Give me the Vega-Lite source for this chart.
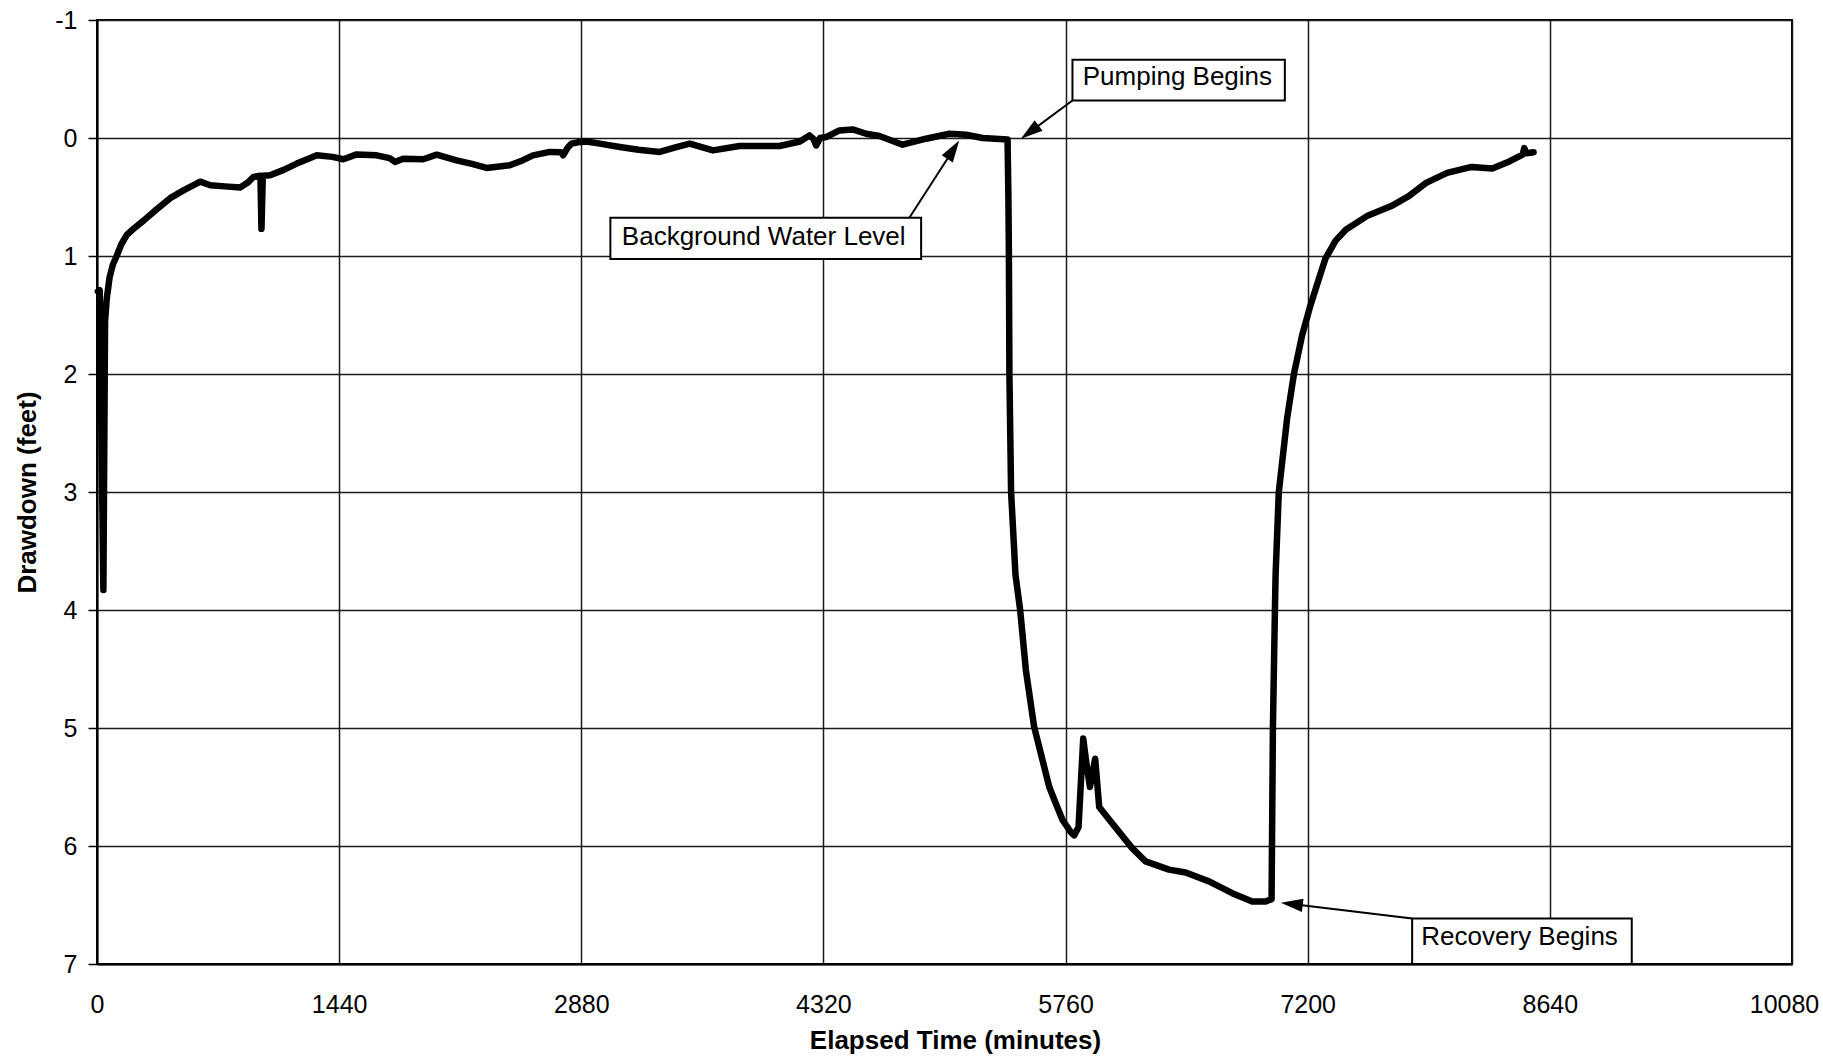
{
  "$schema": "https://vega.github.io/schema/vega-lite/v6.json",
  "width": 1695,
  "height": 944,
  "autosize": {"type": "none"},
  "padding": {"left": 97, "top": 20, "right": 31, "bottom": 97},
  "background": "white",
  "config": {
    "view": {"stroke": "#000", "strokeWidth": 2},
    "font": "Liberation Sans",
    "axisX": {
      "grid": true, "gridColor": "#1a1a1a", "gridWidth": 1.5,
      "ticks": false, "tickSize": 0,
      "labelPadding": 48, "labelBaseline": "alphabetic",
      "labelFontSize": 25, "labelColor": "#000", "labelFont": "Liberation Sans",
      "labelFlush": false, "labelOverlap": false,
      "domainColor": "#000", "domainWidth": 2,
      "titleFontSize": 26, "titleFontWeight": "bold", "titleColor": "#000", "titleFont": "Liberation Sans",
      "titleX": 858, "titleY": 84, "titleBaseline": "alphabetic", "titleAlign": "center"
    },
    "axisY": {
      "grid": true, "gridColor": "#1a1a1a", "gridWidth": 1.5,
      "ticks": true, "tickSize": 9, "tickColor": "#000", "tickWidth": 1.5,
      "labelPadding": 11,
      "labelFontSize": 25, "labelColor": "#000", "labelFont": "Liberation Sans",
      "labelFlush": false, "labelOverlap": false,
      "domainColor": "#000", "domainWidth": 2,
      "titleFontSize": 26, "titleFontWeight": "bold", "titleColor": "#000", "titleFont": "Liberation Sans",
      "titleAngle": -90, "titleX": -62, "titleY": 472, "titleBaseline": "alphabetic", "titleAlign": "center"
    }
  },
  "datasets": {
    "drawdown": [
      {"t": 5, "d": 1.30}, {"t": 16, "d": 1.29}, {"t": 38, "d": 3.83}, {"t": 48, "d": 1.55}, {"t": 58, "d": 1.36},
      {"t": 75, "d": 1.18}, {"t": 95, "d": 1.07}, {"t": 117, "d": 1.00}, {"t": 145, "d": 0.90}, {"t": 178, "d": 0.82},
      {"t": 225, "d": 0.76}, {"t": 277, "d": 0.70}, {"t": 350, "d": 0.61}, {"t": 435, "d": 0.51}, {"t": 520, "d": 0.44},
      {"t": 614, "d": 0.37}, {"t": 673, "d": 0.40}, {"t": 760, "d": 0.41}, {"t": 851, "d": 0.42}, {"t": 895, "d": 0.38},
      {"t": 930, "d": 0.33}, {"t": 972, "d": 0.32}, {"t": 978, "d": 0.77}, {"t": 986, "d": 0.32}, {"t": 1029, "d": 0.316},
      {"t": 1110, "d": 0.27}, {"t": 1188, "d": 0.217}, {"t": 1250, "d": 0.18}, {"t": 1307, "d": 0.147}, {"t": 1400, "d": 0.16},
      {"t": 1465, "d": 0.18}, {"t": 1544, "d": 0.139}, {"t": 1663, "d": 0.147}, {"t": 1740, "d": 0.17}, {"t": 1772, "d": 0.203},
      {"t": 1821, "d": 0.175}, {"t": 1940, "d": 0.18}, {"t": 2020, "d": 0.141}, {"t": 2138, "d": 0.189}, {"t": 2230, "d": 0.22},
      {"t": 2317, "d": 0.254}, {"t": 2455, "d": 0.231}, {"t": 2530, "d": 0.19}, {"t": 2593, "d": 0.147}, {"t": 2693, "d": 0.118},
      {"t": 2760, "d": 0.12}, {"t": 2772, "d": 0.147}, {"t": 2800, "d": 0.08}, {"t": 2821, "d": 0.048}, {"t": 2871, "d": 0.034},
      {"t": 2911, "d": 0.029}, {"t": 2990, "d": 0.048}, {"t": 3109, "d": 0.076}, {"t": 3220, "d": 0.10}, {"t": 3346, "d": 0.118},
      {"t": 3440, "d": 0.08}, {"t": 3525, "d": 0.048}, {"t": 3663, "d": 0.105}, {"t": 3821, "d": 0.068}, {"t": 4059, "d": 0.068},
      {"t": 4180, "d": 0.03}, {"t": 4237, "d": -0.022}, {"t": 4262, "d": 0.01}, {"t": 4277, "d": 0.063}, {"t": 4300, "d": 0.0},
      {"t": 4336, "d": -0.008}, {"t": 4415, "d": -0.064}, {"t": 4494, "d": -0.073}, {"t": 4574, "d": -0.036}, {"t": 4653, "d": -0.017},
      {"t": 4791, "d": 0.057}, {"t": 4930, "d": 0.006}, {"t": 5069, "d": -0.036}, {"t": 5168, "d": -0.028}, {"t": 5267, "d": 0.0},
      {"t": 5415, "d": 0.012}, {"t": 5420, "d": 0.5}, {"t": 5423, "d": 1.0}, {"t": 5426, "d": 2.0}, {"t": 5436, "d": 3.0},
      {"t": 5462, "d": 3.7}, {"t": 5490, "d": 4.0}, {"t": 5524, "d": 4.51}, {"t": 5573, "d": 4.99}, {"t": 5603, "d": 5.16},
      {"t": 5663, "d": 5.50}, {"t": 5702, "d": 5.64}, {"t": 5742, "d": 5.78}, {"t": 5790, "d": 5.88}, {"t": 5811, "d": 5.91},
      {"t": 5837, "d": 5.84}, {"t": 5865, "d": 5.09}, {"t": 5884, "d": 5.30}, {"t": 5905, "d": 5.50}, {"t": 5936, "d": 5.26},
      {"t": 5960, "d": 5.67}, {"t": 6038, "d": 5.81}, {"t": 6157, "d": 6.02}, {"t": 6236, "d": 6.13}, {"t": 6375, "d": 6.20},
      {"t": 6474, "d": 6.225}, {"t": 6613, "d": 6.30}, {"t": 6751, "d": 6.40}, {"t": 6870, "d": 6.47}, {"t": 6949, "d": 6.47},
      {"t": 6985, "d": 6.45}, {"t": 6993, "d": 5.0}, {"t": 7005, "d": 4.0}, {"t": 7009, "d": 3.7}, {"t": 7028, "d": 3.0},
      {"t": 7078, "d": 2.37}, {"t": 7118, "d": 2.0}, {"t": 7167, "d": 1.67}, {"t": 7217, "d": 1.415}, {"t": 7267, "d": 1.19},
      {"t": 7306, "d": 1.02}, {"t": 7366, "d": 0.87}, {"t": 7428, "d": 0.775}, {"t": 7552, "d": 0.662}, {"t": 7697, "d": 0.577},
      {"t": 7801, "d": 0.493}, {"t": 7904, "d": 0.38}, {"t": 8029, "d": 0.296}, {"t": 8174, "d": 0.245}, {"t": 8298, "d": 0.259},
      {"t": 8402, "d": 0.197}, {"t": 8478, "d": 0.14}, {"t": 8488, "d": 0.085}, {"t": 8500, "d": 0.13}, {"t": 8543, "d": 0.121}
    ],
    "arrows": [
      {"x1": 5801, "y1": -0.318, "x2": 5547, "y2": -0.05},
      {"x1": 4831, "y1": 0.676, "x2": 5092, "y2": 0.099},
      {"x1": 7821, "y1": 6.614, "x2": 7105, "y2": 6.492}
    ],
    "heads": [
      {"id": "pump", "x": 5547, "y": -0.05},
      {"id": "bg", "x": 5092, "y": 0.099},
      {"id": "rec", "x": 7105, "y": 6.492}
    ],
    "boxes": [
      {"label": "Pumping Begins", "x1": 5801, "x2": 7064, "y1": -0.664, "y2": -0.318, "tx": 6425, "ty": -0.445},
      {"label": "Background Water Level", "x1": 3053, "x2": 4901, "y1": 0.676, "y2": 1.026, "tx": 3965, "ty": 0.908},
      {"label": "Recovery Begins", "x1": 7821, "x2": 9127, "y1": 6.614, "y2": 7.0, "tx": 8460, "ty": 6.839}
    ]
  },
  "layer": [
    {
      "data": {"name": "drawdown"},
      "mark": {"type": "line", "color": "#000", "strokeWidth": 6.5, "strokeJoin": "round", "strokeCap": "round"},
      "encoding": {
        "x": {
          "field": "t", "type": "quantitative", "title": "Elapsed Time (minutes)",
          "scale": {"domain": [0, 10080], "nice": false, "zero": false},
          "axis": {
            "values": [0, 1440, 2880, 4320, 5760, 7200, 8640, 10080],
            "format": "d",
            "labelOffset": {"condition": {"test": "datum.value == 10080", "value": -8}, "value": 0}
          }
        },
        "y": {
          "field": "d", "type": "quantitative", "title": "Drawdown (feet)",
          "scale": {"domain": [-1, 7], "nice": false, "zero": false, "reverse": true},
          "axis": {
            "values": [-1, 0, 1, 2, 3, 4, 5, 6, 7],
            "labelExpr": "datum.value < 0 ? '-' + abs(datum.value) : format(datum.value, 'd')"
          }
        }
      }
    },
    {
      "data": {"name": "arrows"},
      "mark": {"type": "rule", "color": "#000", "strokeWidth": 2},
      "encoding": {
        "x": {"field": "x1", "type": "quantitative", "title": "Elapsed Time (minutes)"},
        "y": {"field": "y1", "type": "quantitative", "title": "Drawdown (feet)"},
        "x2": {"field": "x2"},
        "y2": {"field": "y2"}
      }
    },
    {
      "data": {"name": "heads"},
      "transform": [{"filter": "datum.id == 'pump'"}],
      "mark": {"type": "point", "shape": "M0,-1L0.6,1L-0.6,1Z", "filled": true, "color": "#000", "opacity": 1, "size": 484, "angle": 233.4},
      "encoding": {
        "x": {"field": "x", "type": "quantitative", "title": "Elapsed Time (minutes)"},
        "y": {"field": "y", "type": "quantitative", "title": "Drawdown (feet)"}
      }
    },
    {
      "data": {"name": "heads"},
      "transform": [{"filter": "datum.id == 'bg'"}],
      "mark": {"type": "point", "shape": "M0,-1L0.6,1L-0.6,1Z", "filled": true, "color": "#000", "opacity": 1, "size": 484, "angle": 32.8},
      "encoding": {
        "x": {"field": "x", "type": "quantitative", "title": "Elapsed Time (minutes)"},
        "y": {"field": "y", "type": "quantitative", "title": "Drawdown (feet)"}
      }
    },
    {
      "data": {"name": "heads"},
      "transform": [{"filter": "datum.id == 'rec'"}],
      "mark": {"type": "point", "shape": "M0,-1L0.6,1L-0.6,1Z", "filled": true, "color": "#000", "opacity": 1, "size": 484, "angle": 276.8},
      "encoding": {
        "x": {"field": "x", "type": "quantitative", "title": "Elapsed Time (minutes)"},
        "y": {"field": "y", "type": "quantitative", "title": "Drawdown (feet)"}
      }
    },
    {
      "data": {"name": "boxes"},
      "mark": {"type": "rect", "fill": "#fff", "stroke": "#000", "strokeWidth": 2},
      "encoding": {
        "x": {"field": "x1", "type": "quantitative", "title": "Elapsed Time (minutes)"},
        "x2": {"field": "x2"},
        "y": {"field": "y1", "type": "quantitative", "title": "Drawdown (feet)"},
        "y2": {"field": "y2"}
      }
    },
    {
      "data": {"name": "boxes"},
      "mark": {"type": "text", "font": "Liberation Sans", "fontSize": 26, "align": "center", "baseline": "alphabetic", "color": "#000"},
      "encoding": {
        "x": {"field": "tx", "type": "quantitative", "title": "Elapsed Time (minutes)"},
        "y": {"field": "ty", "type": "quantitative", "title": "Drawdown (feet)"},
        "text": {"field": "label", "type": "nominal"}
      }
    }
  ]
}
